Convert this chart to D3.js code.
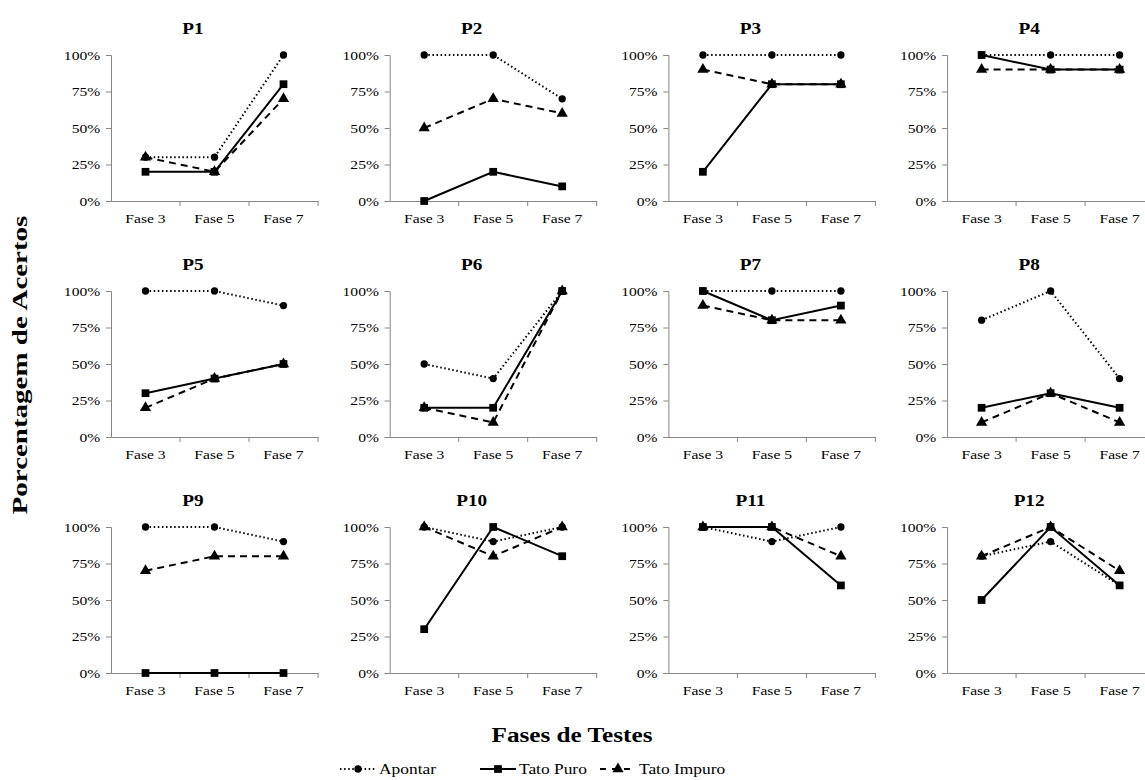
<!DOCTYPE html>
<html>
<head>
<meta charset="utf-8">
<script src="https://cdn.jsdelivr.net/npm/d3@7"></script>
<style>
  body { margin: 0; background: #fff; }
  text { font-family: "Liberation Serif", "Times New Roman", serif; fill: #000; }
</style>
</head>
<body>
<script>
// data (percent)
var participants = ["P1","P2","P3","P4","P5","P6","P7","P8","P9","P10","P11","P12"];
var phases = ["Fase 3", "Fase 5", "Fase 7"];
var seriesNames = ["Apontar", "Tato Puro", "Tato Impuro"];
var yTicks = [0, 25, 50, 75, 100];

var apontar = [
  [30,30,100],[100,100,70],[100,100,100],[100,100,100],
  [100,100,90],[50,40,100],[100,100,100],[80,100,40],
  [100,100,90],[100,90,100],[100,90,100],[80,90,60]
];
var tatoPuro = [
  [20,20,80],[0,20,10],[20,80,80],[100,90,90],
  [30,40,50],[20,20,100],[100,80,90],[20,30,20],
  [0,0,0],[30,100,80],[100,100,60],[50,100,60]
];
var tatoImpuro = [
  [30,20,70],[50,70,60],[90,80,80],[90,90,90],
  [20,40,50],[20,10,100],[90,80,80],[10,30,10],
  [70,80,80],[100,80,100],[100,100,80],[80,100,70]
];

var W = 1145, H = 780;
var stretch = "scale(1.2,1)"; // the original text is a bit wide
var svg = d3.select("body").append("svg")
    .attr("width", W)
    .attr("height", H);

var plotW = 207, plotH = 146;
var colStep = 278.7, rowStep = 236;
var left0 = 111, top0 = 55;

var x = d3.scaleBand().domain(phases).range([0, plotW]);
var y = d3.scaleLinear().domain([0, 100]).range([plotH, 0]);

var styles = [
  { dash: "1.5,2.6", marker: "circle" },
  { dash: null, marker: "square" },
  { dash: "7,5", marker: "triangle" }
];
var symbolFor = {
  circle: d3.symbol().type(d3.symbolCircle).size(42),
  square: d3.symbol().type(d3.symbolSquare).size(60),
  triangle: d3.symbol().type(d3.symbolTriangle).size(55)
};

var line = d3.line()
    .x(function(d, i){ return x(phases[i]) + x.bandwidth() / 2; })
    .y(function(d){ return y(d); });

participants.forEach(function(p, k){
  var col = k % 4, row = Math.floor(k / 4);
  var g = svg.append("g")
      .attr("transform", "translate(" + (left0 + col * colStep) + "," + (top0 + row * rowStep) + ")");

  // title
  g.append("text")
      .attr("transform", "translate(82,-21) " + stretch)
      .attr("text-anchor", "middle")
      .style("font-size", "16px")
      .style("font-weight", "bold")
      .text(p);

  // y axis
  var yAxis = d3.axisLeft(y)
      .tickValues(yTicks)
      .tickSize(5)
      .tickFormat(function(d){ return d + "%"; });
  var ya = g.append("g").call(yAxis);
  ya.attr("font-family", null);
  ya.select(".domain").attr("stroke", "#868686");
  ya.selectAll(".tick line").attr("stroke", "#868686");
  ya.selectAll(".tick text")
      .style("font-size", "13px")
      .attr("x", -9)
      .attr("transform", stretch);

  // x axis
  var xa = g.append("g")
      .attr("transform", "translate(0," + plotH + ")")
      .call(d3.axisBottom(x).tickSize(0).tickSizeOuter(0));
  xa.attr("font-family", null);
  xa.select(".domain").attr("stroke", "#868686");
  xa.selectAll(".tick text")
      .style("font-size", "13px")
      .attr("dy", "1.45em")
      .attr("transform", stretch);
  // ticks at band edges
  xa.selectAll(".edge")
      .data(phases.map(function(ph){ return x(ph) + x.bandwidth(); }))
      .enter().append("line")
      .attr("x1", function(d){ return d; })
      .attr("x2", function(d){ return d; })
      .attr("y1", 0)
      .attr("y2", 5)
      .attr("stroke", "#868686");

  [apontar[k], tatoPuro[k], tatoImpuro[k]].forEach(function(vals, s){
    g.append("path")
        .datum(vals)
        .attr("d", line)
        .attr("fill", "none")
        .attr("stroke", "#000")
        .attr("stroke-width", 2)
        .attr("stroke-dasharray", styles[s].dash);
    g.selectAll(".m" + s)
        .data(vals)
        .enter().append("path")
        .attr("class", "m" + s)
        .attr("d", symbolFor[styles[s].marker])
        .attr("transform", function(d, i){
          return "translate(" + (x(phases[i]) + x.bandwidth() / 2) + "," + y(d) + ")";
        })
        .attr("fill", "#000");
  });
});

// axis titles
svg.append("text")
    .attr("transform", "translate(27,365) rotate(-90) scale(1.45,1)")
    .attr("text-anchor", "middle")
    .style("font-size", "20px")
    .style("font-weight", "bold")
    .text("Porcentagem de Acertos");

svg.append("text")
    .attr("transform", "translate(572,742) " + stretch)
    .attr("text-anchor", "middle")
    .style("font-size", "21px")
    .style("font-weight", "bold")
    .text("Fases de Testes");

// legend
var legendX = [340, 480, 600];
var legend = svg.append("g").attr("transform", "translate(0,769)");
seriesNames.forEach(function(name, s){
  var lg = legend.append("g").attr("transform", "translate(" + legendX[s] + ",0)");
  lg.append("line")
      .attr("x1", 0).attr("x2", 36)
      .attr("y1", 0).attr("y2", 0)
      .attr("stroke", "#000")
      .attr("stroke-width", 2)
      .attr("stroke-dasharray", s === 2 ? "6,6" : styles[s].dash);
  lg.append("path")
      .attr("d", symbolFor[styles[s].marker])
      .attr("transform", "translate(18,0)")
      .attr("fill", "#000");
  lg.append("text")
      .attr("transform", "translate(39,5) " + stretch)
      .style("font-size", "14.5px")
      .text(name);
});
</script>
</body>
</html>
